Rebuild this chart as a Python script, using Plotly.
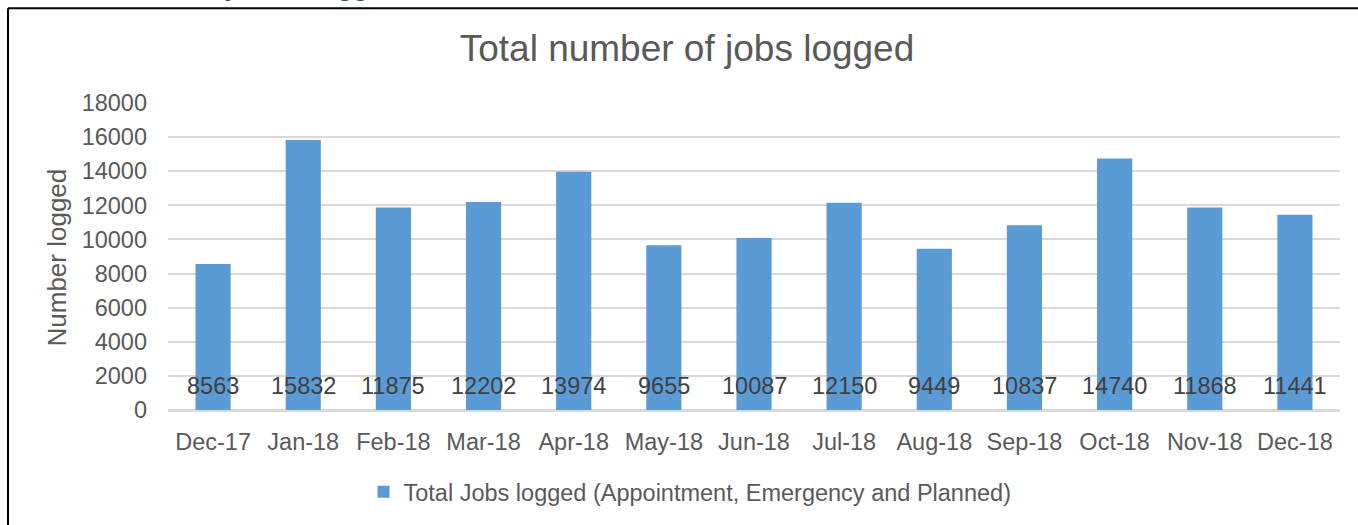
import plotly.graph_objects as go

categories = ["Dec-17", "Jan-18", "Feb-18", "Mar-18", "Apr-18", "May-18", "Jun-18",
              "Jul-18", "Aug-18", "Sep-18", "Oct-18", "Nov-18", "Dec-18"]
jobs_logged = [8563, 15832, 11875, 12202, 13974, 9655, 10087, 12150, 9449, 10837, 14740, 11868, 11441]
series_name = "Total Jobs logged (Appointment, Emergency and Planned)"
y_ticks = [0, 2000, 4000, 6000, 8000, 10000, 12000, 14000, 16000, 18000]
y_tick_labels = [str(t) for t in y_ticks]

W, H = 1358, 525
L, R, T, B = 168, 1340, 103, 411  # plot area in pixels

def px_x(p):
    return (p - L) / (R - L)

def px_y(p):
    return (B - p) / (B - T)

FONT = "Liberation Sans, Arial, sans-serif"
GREY = "#595959"

fig = go.Figure()
fig.add_trace(go.Bar(
    x=categories, y=jobs_logged, name=series_name,
    marker=dict(color="#5B9BD5", line=dict(width=0)),
    showlegend=True,
))

annotations = []
for c, v in zip(categories, jobs_logged):
    annotations.append(dict(
        x=c, y=0, xref="x", yref="y", text=str(v), showarrow=False,
        yanchor="bottom", yshift=9,
        font=dict(family=FONT, size=23.5, color="#404040"),
    ))

# y axis title
annotations.append(dict(
    x=px_x(57), y=px_y(258), xref="paper", yref="paper", text="Number logged",
    textangle=-90, showarrow=False, xanchor="center", yanchor="middle",
    font=dict(family=FONT, size=26, color=GREY),
))

# clipped document heading above the chart
annotations.append(dict(
    x=px_x(137), y=px_y(4), xref="paper", yref="paper", text="<b>Monthly Jobs logged</b>",
    showarrow=False, xanchor="left", yanchor="bottom",
    font=dict(family=FONT, size=26, color="#1F4E79"),
))

shapes = [
    dict(type="line", xref="paper", yref="paper",
         x0=px_x(8), x1=px_x(1362), y0=px_y(8), y1=px_y(8),
         line=dict(color="#000000", width=2)),
    dict(type="line", xref="paper", yref="paper",
         x0=px_x(8), x1=px_x(8), y0=px_y(8), y1=px_y(530),
         line=dict(color="#000000", width=2)),
]

fig.update_layout(
    width=W, height=H,
    margin=dict(l=L, r=W - R, t=T, b=H - B, pad=0),
    paper_bgcolor="white", plot_bgcolor="white",
    title=dict(text="Total number of jobs logged", x=687 / W, xref="container", xanchor="center",
               y=1 - 48 / H, yref="container", yanchor="middle",
               font=dict(family=FONT, size=37, color=GREY)),
    bargap=0.61,
    font=dict(family=FONT, size=23.5, color=GREY),
    legend=dict(orientation="h", x=px_x(690), y=px_y(492), xanchor="center", yanchor="middle",
                font=dict(family=FONT, size=23.5, color=GREY), itemwidth=30,
                bgcolor="rgba(0,0,0,0)"),
    annotations=annotations,
    shapes=shapes,
)
fig.update_xaxes(showline=True, linecolor="#D9D9D9", linewidth=1.5, showgrid=False,
                 ticks="", ticklabelstandoff=10, tickfont=dict(family=FONT, size=23.5, color=GREY))
fig.update_yaxes(range=[0, 18000], tickvals=y_ticks, ticktext=y_tick_labels, showgrid=True,
                 gridcolor="#D9D9D9", gridwidth=1.5, zeroline=True, zerolinecolor="#D9D9D9",
                 zerolinewidth=1.5, showline=False, ticks="", ticklabelstandoff=20,
                 tickfont=dict(family=FONT, size=23.5, color=GREY))

fig.write_html("out.html")
